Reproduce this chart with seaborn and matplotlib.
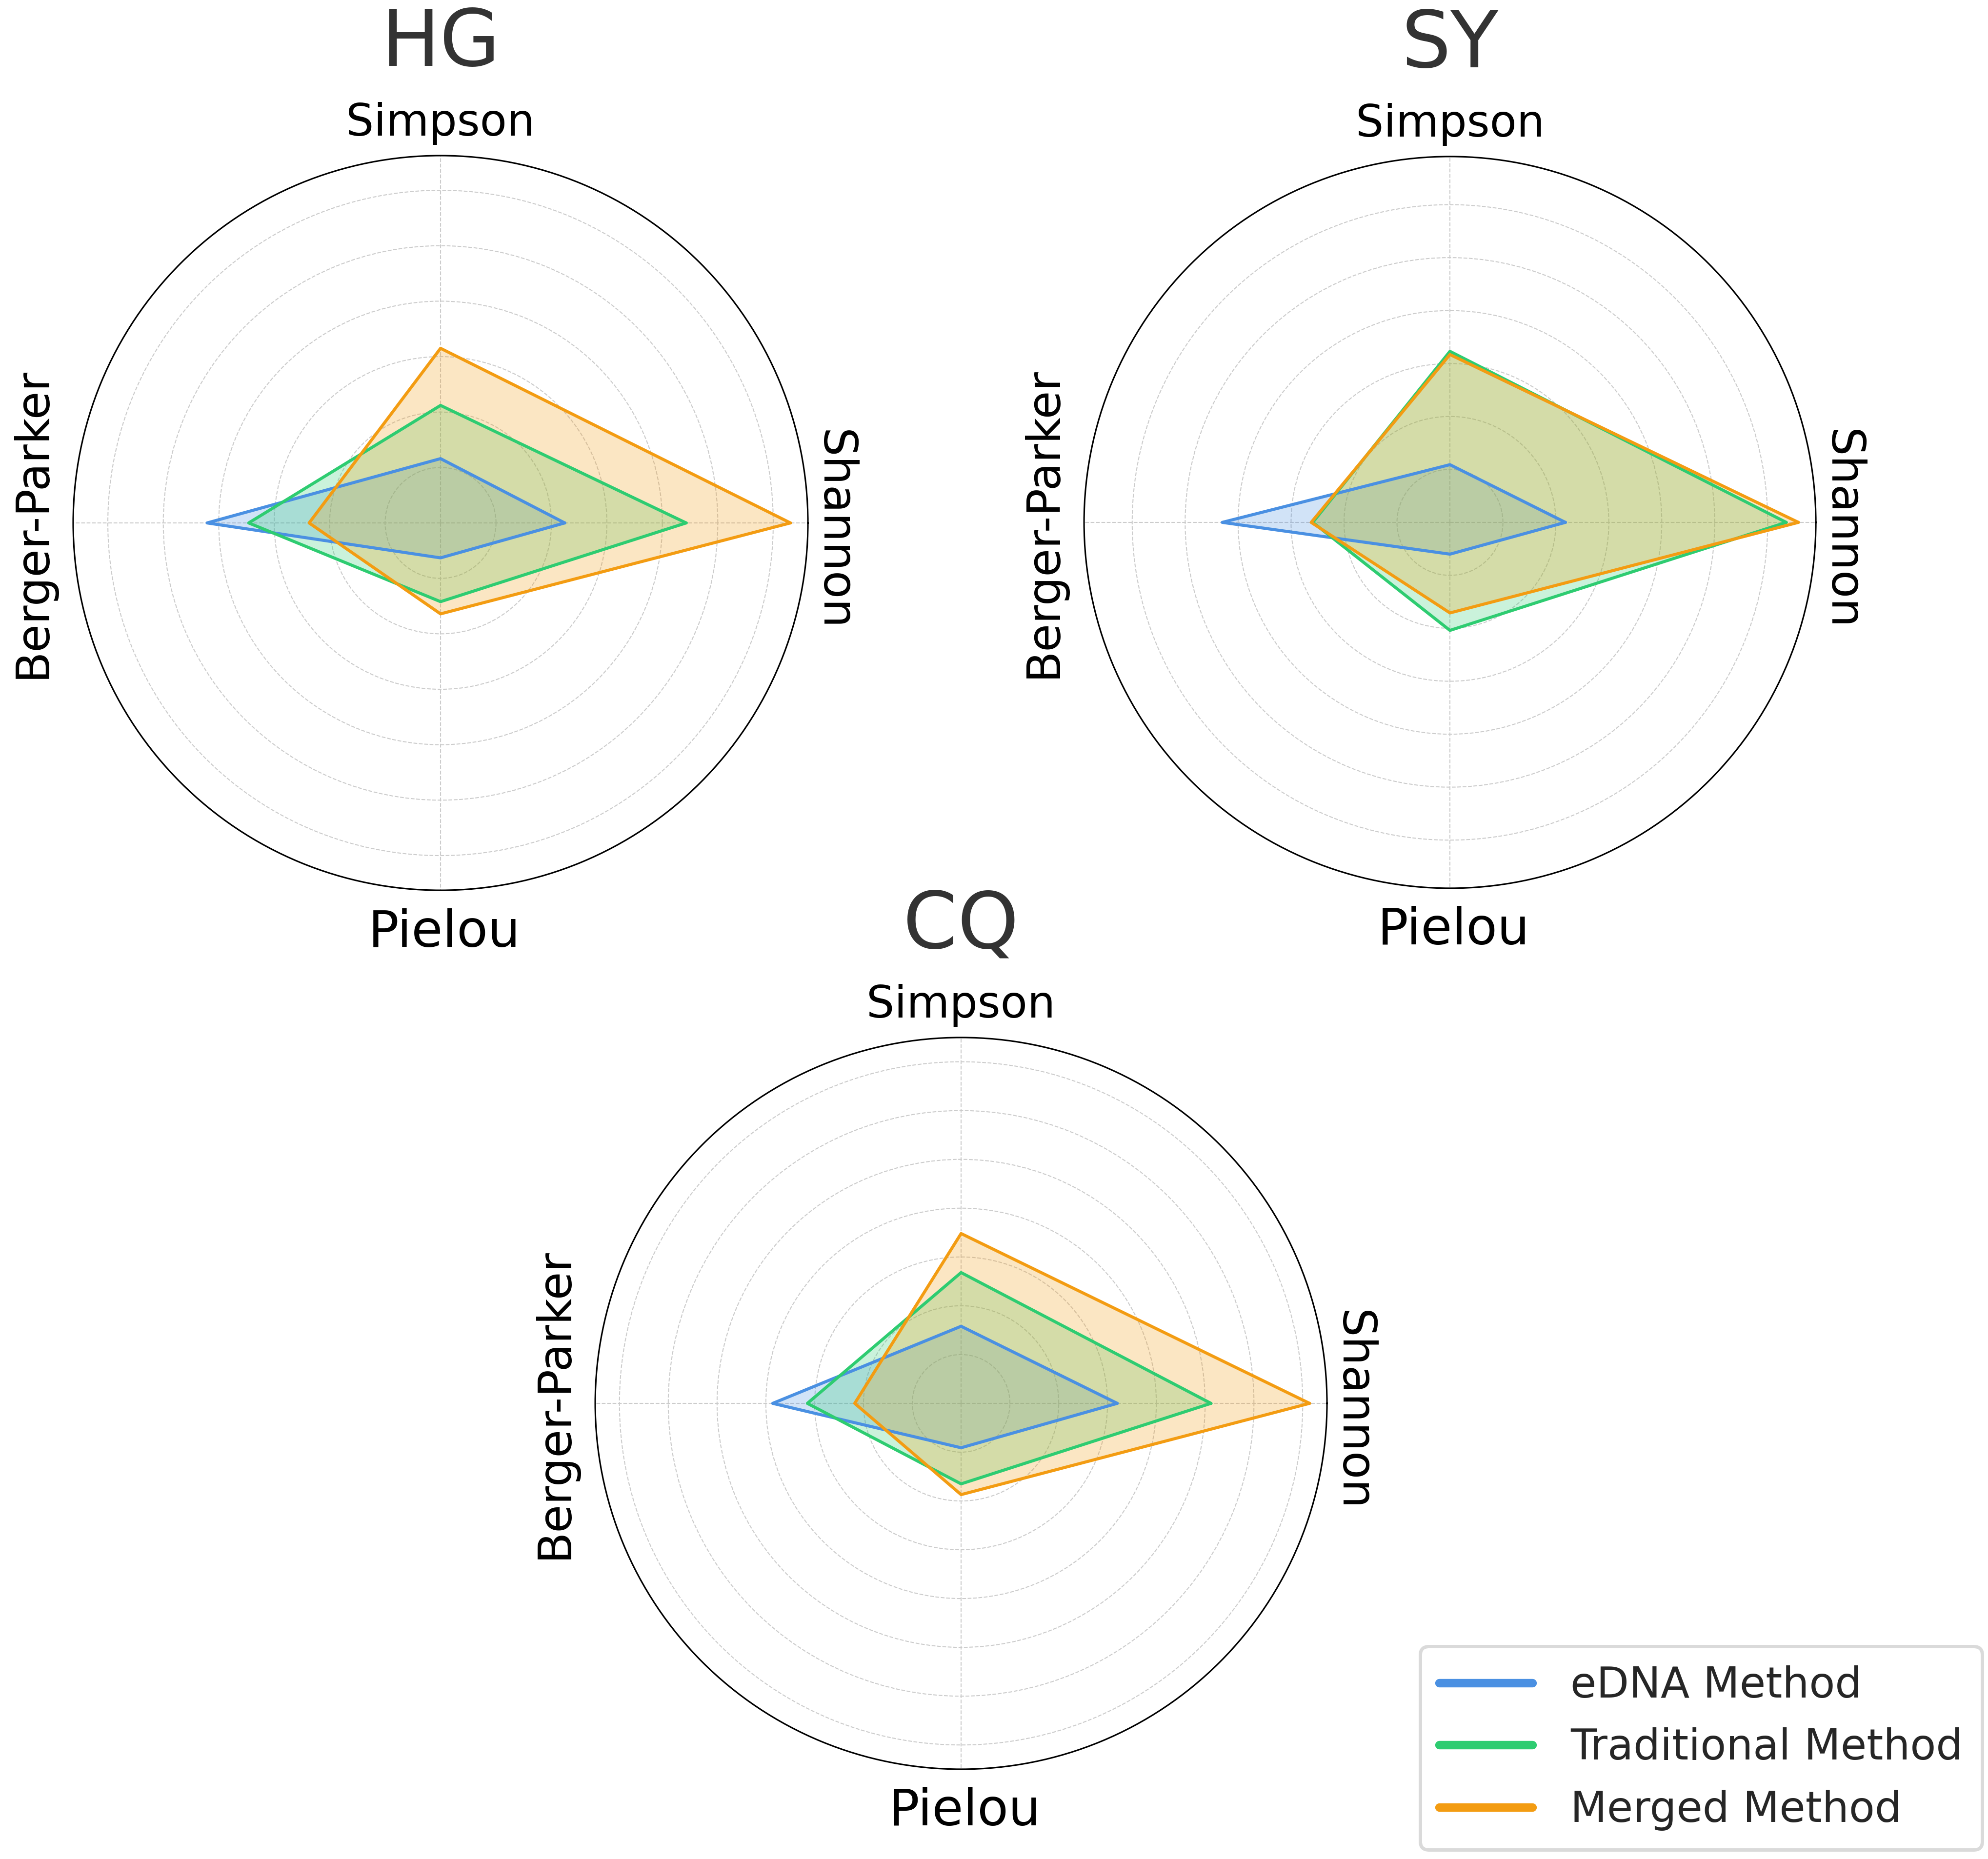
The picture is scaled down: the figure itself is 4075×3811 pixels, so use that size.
import numpy as np
import pandas as pd
import matplotlib
matplotlib.use('Agg')
import matplotlib.pyplot as plt
from matplotlib.lines import Line2D
from matplotlib.ticker import MultipleLocator
import seaborn as sns

# diversity indices, order: Shannon, Simpson, Berger-Parker, Pielou
metrics = ['Shannon', 'Simpson', 'Berger-Parker', 'Pielou']
methods = ['eDNA Method', 'Traditional Method', 'Merged Method']
sites = ['HG', 'SY', 'CQ']

hg_edna = [2.24, 1.16, 4.21, 0.63]
hg_trad = [4.43, 2.12, 3.46, 1.42]
hg_merged = [6.31, 3.15, 2.37, 1.64]

sy_edna = [2.18, 1.09, 4.30, 0.60]
sy_trad = [6.35, 3.23, 2.59, 2.04]
sy_merged = [6.58, 3.17, 2.62, 1.71]

cq_edna = [3.20, 1.58, 3.86, 0.91]
cq_trad = [5.12, 2.68, 3.15, 1.65]
cq_merged = [7.14, 3.48, 2.18, 1.87]

site_values = {
    'HG': [hg_edna, hg_trad, hg_merged],
    'SY': [sy_edna, sy_trad, sy_merged],
    'CQ': [cq_edna, cq_trad, cq_merged],
}

colors = ['#4A90E2', '#2ECC71', '#F39C12']

# axes boxes [left, bottom, width, height] in figure fractions
layout = {
    'HG': [0.0368, 0.5211, 0.3696, 0.3952],
    'SY': [0.5453, 0.5222, 0.3681, 0.3936],
    'CQ': [0.2994, 0.0483, 0.3681, 0.3936],
}

sns.set_theme(style='white')
plt.rcParams['font.family'] = ['DejaVu Sans']

fig = plt.figure(figsize=(16.3, 15.244), dpi=250)

angles = np.linspace(0, 2 * np.pi, len(metrics), endpoint=False)
angles_closed = np.concatenate([angles, angles[:1]])

for site in sites:
    ax = fig.add_axes(layout[site], projection='polar')
    vals = site_values[site]

    rows = []
    for method, v in zip(methods, vals):
        closed = list(v) + [v[0]]
        for a, r in zip(angles_closed, closed):
            rows.append({'angle': a, 'value': r, 'method': method})
    df = pd.DataFrame(rows)

    for method, v, c in zip(methods, vals, colors):
        closed = list(v) + [v[0]]
        ax.fill(angles_closed, closed, color=c, alpha=0.25, linewidth=0)

    sns.lineplot(data=df, x='angle', y='value', hue='method', hue_order=methods,
                 palette=colors, sort=False, estimator=None, legend=False,
                 linewidth=1.8, ax=ax)

    rmax = max(max(v) for v in vals) * 1.05
    ax.set_ylim(0, rmax)
    ax.yaxis.set_major_locator(MultipleLocator(1))
    ax.set_yticklabels([])
    ax.set_xticks(angles)
    ax.set_xticklabels([])
    ax.set_xlabel('')
    ax.set_ylabel('')
    ax.grid(True, linestyle='--', color='0.8', linewidth=0.6)
    ax.spines['polar'].set_color('black')
    ax.spines['polar'].set_linewidth(0.9)

    # metric labels around the circle
    ax.text(0.5, 1.027, 'Simpson', transform=ax.transAxes, ha='center',
            va='baseline', fontsize=26, color='black')
    ax.text(0.505, -0.077, 'Pielou', transform=ax.transAxes, ha='center',
            va='baseline', fontsize=30, color='black')
    ax.text(1.018, 0.49, 'Shannon', transform=ax.transAxes, ha='center',
            va='baseline', rotation=-90, rotation_mode='anchor',
            fontsize=27, color='black')
    ax.text(-0.038, 0.5, 'Berger-Parker', transform=ax.transAxes, ha='center',
            va='baseline', rotation=90, rotation_mode='anchor',
            fontsize=27, color='black')

    ax.text(0.5, 1.122, site, transform=ax.transAxes, ha='center',
            va='baseline', fontsize=46, color='.2')

handles = [Line2D([0], [0], color=c, linewidth=5) for c in colors]
leg = fig.legend(handles, methods, loc='lower right',
                 bbox_to_anchor=(0.997, 0.005), borderaxespad=0,
                 fontsize=25, handlelength=2.2, handletextpad=0.9,
                 frameon=True, fancybox=True,
                 borderpad=0.45, labelspacing=0.5)
leg.get_frame().set_edgecolor('0.82')
leg.get_frame().set_linewidth(2)
for t in leg.get_texts():
    t.set_color('.15')

fig.savefig('out.png', dpi=250)
